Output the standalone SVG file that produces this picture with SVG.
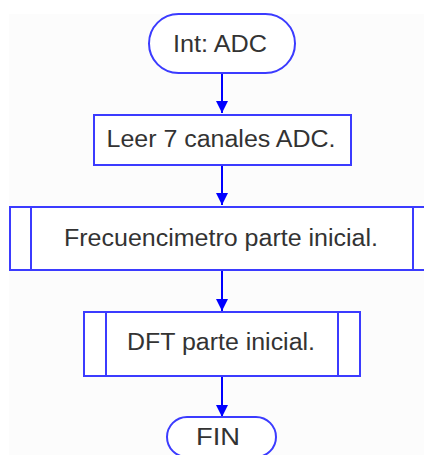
<svg xmlns="http://www.w3.org/2000/svg" width="424" height="455" viewBox="0 0 424 455">
  <defs>
    <style>
      .shape { fill: #ffffff; stroke: #3b3bff; stroke-width: 2; }
      .inner { fill: none; stroke: #3b3bff; stroke-width: 2; }
      .conn { fill: none; stroke: #0000ff; stroke-width: 2; }
      .label { font-family: "Liberation Sans", Arial, sans-serif; font-size: 23px; fill: #333333; text-anchor: middle; }
    </style>
    <marker id="arrow" viewBox="0 0 12 14" refX="12" refY="6" markerWidth="12" markerHeight="14" markerUnits="userSpaceOnUse" orient="auto">
      <path d="M0,0 L12,6 L0,12 Z" fill="#0000ff"/>
    </marker>
  </defs>
  <rect x="0" y="0" width="424" height="455" fill="#ffffff"/>
  <rect x="9" y="14" width="415" height="441" fill="#fcfcfc"/>

  <g id="connectors">
    <line class="conn" x1="222" y1="74" x2="222" y2="113" marker-end="url(#arrow)"/>
    <line class="conn" x1="222" y1="165" x2="222" y2="205" marker-end="url(#arrow)"/>
    <line class="conn" x1="222" y1="270" x2="222" y2="311" marker-end="url(#arrow)"/>
    <line class="conn" x1="222" y1="376" x2="222" y2="417" marker-end="url(#arrow)"/>
  </g>

  <g id="start">
    <rect class="shape" x="149" y="14" width="146" height="59" rx="29.5" ry="29.5"/>
    <text class="label" x="220" y="52" textLength="94" lengthAdjust="spacingAndGlyphs">Int: ADC</text>
  </g>

  <g id="leer">
    <rect class="shape" x="94" y="115" width="257" height="50"/>
    <text class="label" x="221" y="147" textLength="229" lengthAdjust="spacingAndGlyphs">Leer 7 canales ADC.</text>
  </g>

  <g id="frecuencimetro">
    <rect class="shape" x="10" y="207" width="424" height="63"/>
    <line class="inner" x1="31" y1="207" x2="31" y2="270"/>
    <line class="inner" x1="413" y1="207" x2="413" y2="270"/>
    <text class="label" x="221" y="246" textLength="314" lengthAdjust="spacingAndGlyphs">Frecuencimetro parte inicial.</text>
  </g>

  <g id="dft">
    <rect class="shape" x="84" y="312" width="276" height="64"/>
    <line class="inner" x1="106" y1="312" x2="106" y2="376"/>
    <line class="inner" x1="338" y1="312" x2="338" y2="376"/>
    <text class="label" x="221" y="350" textLength="188" lengthAdjust="spacingAndGlyphs">DFT parte inicial.</text>
  </g>

  <g id="fin">
    <rect class="shape" x="167" y="417" width="109" height="40" rx="20" ry="20"/>
    <text class="label" x="218" y="445" textLength="44" lengthAdjust="spacingAndGlyphs">FIN</text>
  </g>
</svg>
